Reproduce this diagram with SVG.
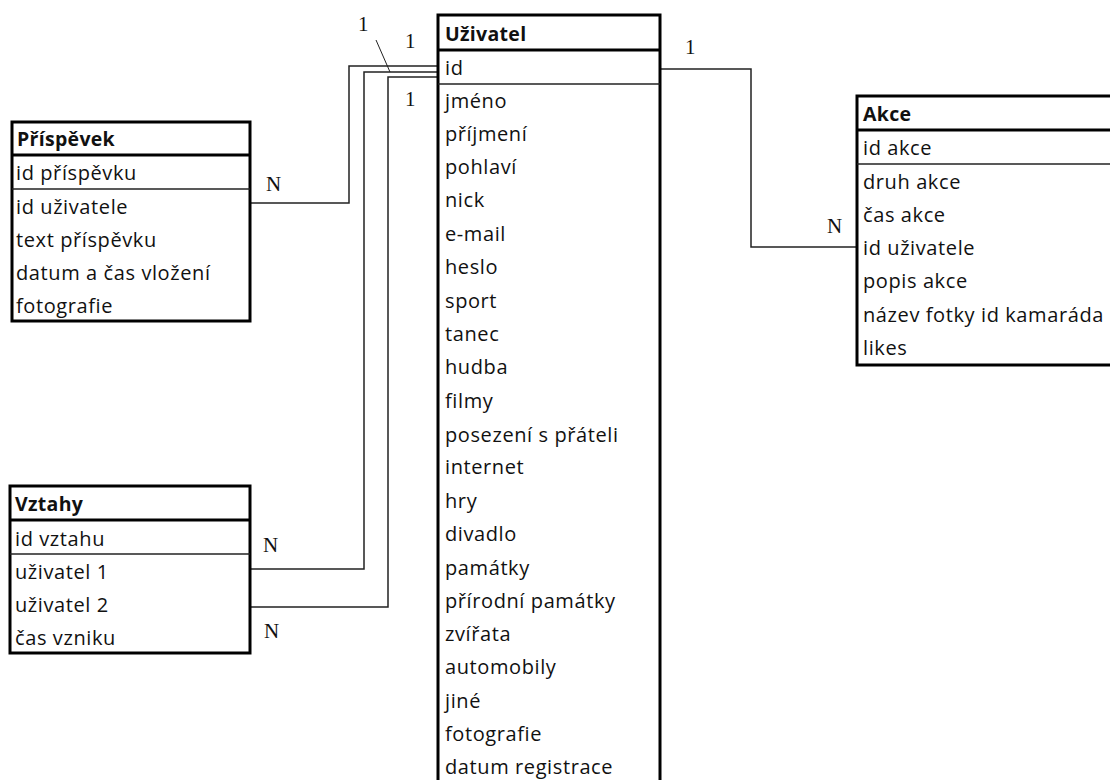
<svg xmlns="http://www.w3.org/2000/svg" width="1110" height="780" viewBox="0 0 1110 780">
<style>
.box{fill:#fff;stroke:#000;stroke-width:3}
.hsep{stroke:#000;stroke-width:3}
.sep{stroke:#222;stroke-width:1.5}
.t{font-family:"Open Sans","Liberation Sans",sans-serif;font-size:20px;letter-spacing:0.6px;fill:#111}
.h{font-family:"Open Sans","Liberation Sans",sans-serif;font-size:19.5px;font-weight:bold;letter-spacing:0.3px;fill:#111}
.c{fill:none;stroke:#222;stroke-width:1.5}
.m{font-family:"Liberation Serif",serif;font-size:21px;fill:#111}
</style>
<rect width="1110" height="780" fill="#fff"/>
<g id="connectors">
<polyline class="c" points="250,203 349,203 349,66 438,66"/>
<polyline class="c" points="250,569 364,569 364,72 438,72"/>
<polyline class="c" points="250,607 388,607 388,77 438,77"/>
<polyline class="c" points="660,69 751,69 751,247 857,247"/>
<line x1="376" y1="40" x2="390" y2="72" stroke="#222" stroke-width="1"/>
<text class="m" x="358" y="31">1</text>
<text class="m" x="405" y="48">1</text>
<text class="m" x="405" y="106">1</text>
<text class="m" x="685" y="54">1</text>
<text class="m" x="266" y="191">N</text>
<text class="m" x="263" y="552">N</text>
<text class="m" x="264" y="638">N</text>
<text class="m" x="827" y="233">N</text>
</g>
<g id="uzivatel">
<rect class="box" x="438" y="15" width="222" height="790"/>
<line class="hsep" x1="438" y1="50" x2="660" y2="50"/>
<line class="sep" x1="438" y1="84" x2="660" y2="84"/>
<text class="h" x="445" y="41">Uživatel</text>
<text class="t" x="445" y="75">id</text>
<text class="t" x="445" y="108">jméno</text>
<text class="t" x="445" y="141">příjmení</text>
<text class="t" x="445" y="174">pohlaví</text>
<text class="t" x="445" y="207">nick</text>
<text class="t" x="445" y="241">e-mail</text>
<text class="t" x="445" y="274">heslo</text>
<text class="t" x="445" y="308">sport</text>
<text class="t" x="445" y="341">tanec</text>
<text class="t" x="445" y="374">hudba</text>
<text class="t" x="445" y="408">filmy</text>
<text class="t" x="445" y="442">posezení s přáteli</text>
<text class="t" x="445" y="474">internet</text>
<text class="t" x="445" y="508">hry</text>
<text class="t" x="445" y="541">divadlo</text>
<text class="t" x="445" y="575">památky</text>
<text class="t" x="445" y="608">přírodní památky</text>
<text class="t" x="445" y="641">zvířata</text>
<text class="t" x="445" y="674">automobily</text>
<text class="t" x="445" y="708">jiné</text>
<text class="t" x="445" y="741">fotografie</text>
<text class="t" x="445" y="774">datum registrace</text>
</g>
<g id="prispevek">
<rect class="box" x="12" y="122" width="238" height="199"/>
<line class="hsep" x1="12" y1="155" x2="250" y2="155"/>
<line class="sep" x1="12" y1="189" x2="250" y2="189"/>
<text class="h" x="17" y="146">Příspěvek</text>
<text class="t" x="16" y="180">id příspěvku</text>
<text class="t" x="16" y="214">id uživatele</text>
<text class="t" x="16" y="247">text příspěvku</text>
<text class="t" x="16" y="280">datum a čas vložení</text>
<text class="t" x="16" y="313">fotografie</text>
</g>
<g id="vztahy">
<rect class="box" x="10" y="486" width="240" height="167"/>
<line class="hsep" x1="10" y1="520" x2="250" y2="520"/>
<line class="sep" x1="10" y1="554" x2="250" y2="554"/>
<text class="h" x="15" y="511">Vztahy</text>
<text class="t" x="15" y="546">id vztahu</text>
<text class="t" x="15" y="579">uživatel 1</text>
<text class="t" x="15" y="612">uživatel 2</text>
<text class="t" x="15" y="645">čas vzniku</text>
</g>
<g id="akce">
<rect class="box" x="857" y="96" width="270" height="269"/>
<line class="hsep" x1="857" y1="130" x2="1110" y2="130"/>
<line class="sep" x1="857" y1="164" x2="1110" y2="164"/>
<text class="h" x="863" y="121">Akce</text>
<text class="t" x="863" y="155">id akce</text>
<text class="t" x="863" y="189">druh akce</text>
<text class="t" x="863" y="222">čas akce</text>
<text class="t" x="863" y="255">id uživatele</text>
<text class="t" x="863" y="288">popis akce</text>
<text class="t" x="863" y="322">název fotky id kamaráda</text>
<text class="t" x="863" y="355">likes</text>
</g>
</svg>
